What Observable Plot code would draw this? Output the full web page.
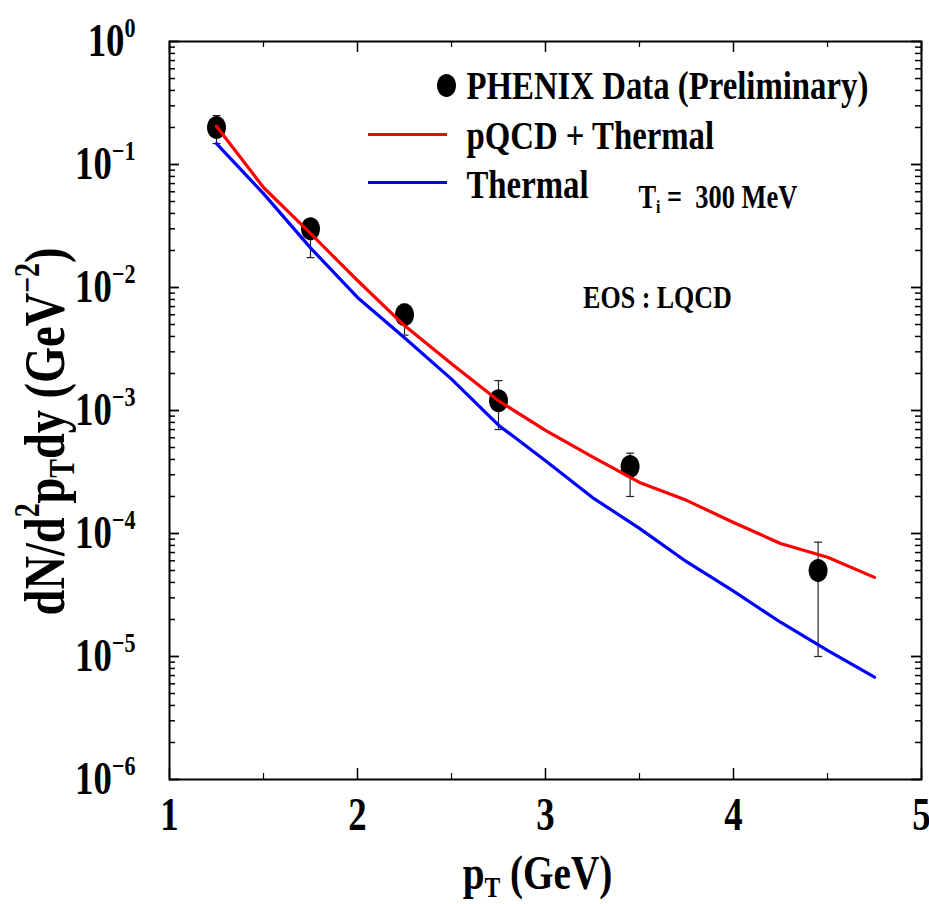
<!DOCTYPE html>
<html><head><meta charset="utf-8">
<script src="https://cdn.jsdelivr.net/npm/d3@7"></script>
<script src="https://cdn.jsdelivr.net/npm/@observablehq/plot@0.6"></script>
<style>body{margin:0;background:#fff;} svg text{white-space:pre;}</style>
</head><body><div id="chart"></div>
<script>
// ---- data ----
const dataPt = [1.25, 1.75, 2.25, 2.75, 3.45, 4.45];
const dataY  = [0.20, 0.030, 0.0060, 0.0012, 0.00035, 0.000050];
const dataLo = [0.148, 0.0175, 0.0041, 0.0007, 0.00020, 0.000010];
const dataHi = [0.25, 0.036, 0.0073, 0.00175, 0.00045, 0.000085];

const curvePt = [1.25, 1.5, 1.75, 2.0, 2.25, 2.5, 2.75, 3.0, 3.25, 3.5, 3.75, 4.0, 4.25, 4.5, 4.75];
const pqcdThermal = [0.205, 0.065, 0.0275, 0.0114, 0.0049, 0.0024, 0.0012, 0.00069, 0.00042, 0.00026, 0.000186, 0.000123, 0.000083, 0.000064, 0.000044];
const thermal     = [0.148, 0.058, 0.021, 0.0083, 0.0039, 0.0018, 0.00076, 0.00039, 0.000196, 0.000110, 0.000059, 0.000034, 0.000019, 0.0000112, 0.0000068];

const xTickValues = [1, 2, 3, 4, 5];
const xMinorValues = [1.5, 2.5, 3.5, 4.5];
const yTickExponents = [0, -1, -2, -3, -4, -5, -6];
const yMinorValues = [];
for (let e = -6; e < 0; e++) for (let m = 2; m <= 9; m++) yMinorValues.push(m * 10 ** e);

const legendLabels = ["PHENIX Data (Preliminary)", "pQCD + Thermal", "Thermal"];
const annotTemp = "T_{i} =  300 MeV";
const annotEos = "EOS : LQCD";
const xLabel = "p_{T} (GeV)";
const yLabel = "dN/d^{2}p_{T}dy (GeV^{−2})";

// ---- layout ----
const W = 929, H = 904, mL = 169, mR = 8, mT = 41, mB = 125;
const frameW = W - mL - mR, frameH = H - mT - mB;

const points = dataPt.map((x, i) => ({x, y: dataY[i], lo: dataLo[i], hi: dataHi[i]}));
const redPts = curvePt.map((x, i) => ({x, y: pqcdThermal[i]}));
const bluePts = curvePt.map((x, i) => ({x, y: thermal[i]}));

const ellipse = {draw(ctx) {
  const rx = 9.5, ry = 11.5, k = 0.5523;
  ctx.moveTo(rx, 0);
  ctx.bezierCurveTo(rx, ry * k, rx * k, ry, 0, ry);
  ctx.bezierCurveTo(-rx * k, ry, -rx, ry * k, -rx, 0);
  ctx.bezierCurveTo(-rx, -ry * k, -rx * k, -ry, 0, -ry);
  ctx.bezierCurveTo(rx * k, -ry, rx, -ry * k, rx, 0);
  ctx.closePath();
}};
const cap = {draw(ctx) { ctx.moveTo(-4, 0); ctx.lineTo(4, 0); }};
const legendLine = {draw(ctx) { ctx.moveTo(-39.5, 0); ctx.lineTo(39.5, 0); }};

const chart = Plot.plot({
  width: W, height: H,
  marginLeft: mL, marginRight: mR, marginTop: mT, marginBottom: mB,
  style: {fontFamily: "'Liberation Serif', 'Times New Roman', serif", fontWeight: "bold", background: "white", overflow: "visible"},
  x: {domain: [1, 5], axis: null},
  y: {type: "log", domain: [1e-6, 1], axis: null},
  marks: [
    // ticks (inward, all four sides)
    Plot.tickX(xTickValues, {x: d => d, insetTop: frameH - 11, stroke: "black", strokeWidth: 1.5}),
    Plot.tickX(xMinorValues, {x: d => d, insetTop: frameH - 6, stroke: "black", strokeWidth: 1.2}),
    Plot.tickX(xTickValues, {x: d => d, insetBottom: frameH - 11, stroke: "black", strokeWidth: 1.5}),
    Plot.tickX(xMinorValues, {x: d => d, insetBottom: frameH - 6, stroke: "black", strokeWidth: 1.2}),
    Plot.tickY(yTickExponents, {y: e => 10 ** e, insetRight: frameW - 10, stroke: "black", strokeWidth: 1.8}),
    Plot.tickY(yMinorValues, {y: d => d, insetRight: frameW - 6, stroke: "black", strokeWidth: 1.5}),
    Plot.tickY(yTickExponents, {y: e => 10 ** e, insetLeft: frameW - 10, stroke: "black", strokeWidth: 1.8}),
    Plot.tickY(yMinorValues, {y: d => d, insetLeft: frameW - 6, stroke: "black", strokeWidth: 1.5}),
    Plot.frame({stroke: "black", strokeWidth: 2}),
    // tick labels
    Plot.text(yTickExponents, {frameAnchor: "left", y: e => 10 ** e, text: e => `10^{${e === 0 ? "0" : "−" + (-e)}}`,
      textAnchor: "end", lineAnchor: "middle", dx: -34, fontSize: 46}),
    Plot.text(xTickValues, {frameAnchor: "bottom", x: d => d, text: d => String(d), textAnchor: "middle", lineAnchor: "middle", dy: 36, fontSize: 46}),
    // axis labels
    Plot.text([xLabel], {frameAnchor: "bottom", text: d => d, textAnchor: "middle", lineAnchor: "bottom", dx: -8, dy: 109, fontSize: 49}),
    Plot.text([yLabel], {frameAnchor: "left", text: d => d, textAnchor: "middle", lineAnchor: "bottom", rotate: -90, dx: -106, dy: 21, fontSize: 58}),
    // error bars
    Plot.ruleX(points, {x: "x", y1: "lo", y2: "hi", stroke: "#222", strokeWidth: 1.2}),
    Plot.dot(points, {x: "x", y: "lo", symbol: cap, stroke: "#222", strokeWidth: 1.2, fill: "none"}),
    Plot.dot(points, {x: "x", y: "hi", symbol: cap, stroke: "#222", strokeWidth: 1.2, fill: "none"}),
    // data markers
    Plot.dot(points, {x: "x", y: "y", symbol: ellipse, fill: "black", stroke: "none"}),
    // curves
    Plot.line(bluePts, {x: "x", y: "y", stroke: "#0000ff", strokeWidth: 3.2}),
    Plot.line(redPts, {x: "x", y: "y", stroke: "#ff0000", strokeWidth: 3.2}),
    // legend
    Plot.dot([0], {frameAnchor: "top-left", dx: 277, dy: 44, symbol: ellipse, fill: "black", stroke: "none"}),
    Plot.dot([0], {frameAnchor: "top-left", dx: 238, dy: 93, symbol: legendLine, stroke: "#ff0000", strokeWidth: 3.2, fill: "none"}),
    Plot.dot([0], {frameAnchor: "top-left", dx: 238, dy: 141, symbol: legendLine, stroke: "#0000ff", strokeWidth: 3.2, fill: "none"}),
    Plot.text([legendLabels[0]], {frameAnchor: "top-left", text: d => d, textAnchor: "start", lineAnchor: "middle", dx: 297, dy: 44, fontSize: 41}),
    Plot.text([legendLabels[1]], {frameAnchor: "top-left", text: d => d, textAnchor: "start", lineAnchor: "middle", dx: 297, dy: 94, fontSize: 41}),
    Plot.text([legendLabels[2]], {frameAnchor: "top-left", text: d => d, textAnchor: "start", lineAnchor: "middle", dx: 297, dy: 143, fontSize: 41}),
    // annotations
    Plot.text([annotTemp], {frameAnchor: "top-left", text: d => d, textAnchor: "start", lineAnchor: "bottom", dx: 469, dy: 166, fontSize: 33}),
    Plot.text([annotEos], {frameAnchor: "top-left", text: d => d, textAnchor: "middle", lineAnchor: "bottom", dx: 488, dy: 266, fontSize: 32.5})
  ]
});

document.getElementById("chart").append(chart);

// rich text (superscripts / subscripts) and condensed glyphs
const svgNS = "http://www.w3.org/2000/svg";
function richify(el, F) {
  const s = el.textContent;
  if (!/[\^_]\{/.test(s)) return;
  const supSize = 0.6 * F, subSize = 0.6 * F, supShift = 0.42 * F, subShift = 0.18 * F;
  el.textContent = "";
  const re = /([\^_])\{([^}]*)\}/g;
  let last = 0, off = 0, m;
  const add = (txt, dy, size) => {
    const t = document.createElementNS(svgNS, "tspan");
    t.textContent = txt;
    if (dy) t.setAttribute("dy", dy);
    if (size) t.setAttribute("font-size", size);
    el.appendChild(t);
  };
  while ((m = re.exec(s))) {
    if (m.index > last) { add(s.slice(last, m.index), -off); off = 0; }
    const shift = m[1] === "^" ? -supShift : subShift;
    add(m[2], shift - off, m[1] === "^" ? supSize : subSize);
    off = shift;
    last = re.lastIndex;
  }
  if (last < s.length) add(s.slice(last), -off);
}
chart.querySelectorAll("text").forEach(el => {
  const F = parseFloat(getComputedStyle(el).fontSize);
  richify(el, F);
  el.setAttribute("transform", (el.getAttribute("transform") || "") + " scale(0.8,1)");
});
</script>
</body></html>
